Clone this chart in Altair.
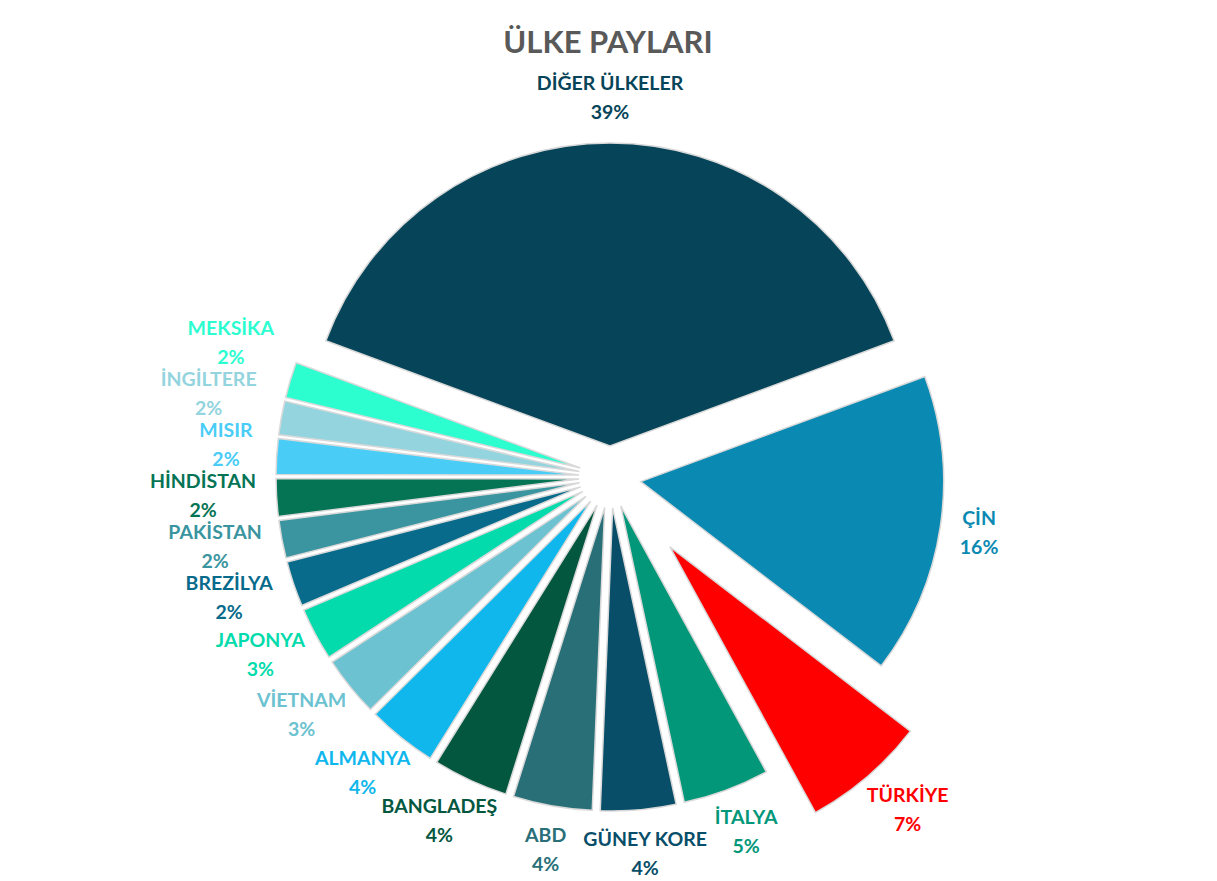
import altair as alt
import pandas as pd

# ---- data ----
names = ["DİĞER ÜLKELER", "ÇİN", "TÜRKİYE", "İTALYA", "GÜNEY KORE", "ABD",
         "BANGLADEŞ", "ALMANYA", "VİETNAM", "JAPONYA", "BREZİLYA", "PAKİSTAN",
         "HİNDİSTAN", "MISIR", "İNGİLTERE", "MEKSİKA"]
values = [38.6, 16.0, 6.6, 4.6, 4.0, 4.2, 4.0, 3.7, 3.2, 2.8, 2.4, 2.0,
          2.0, 1.9, 1.8, 1.9]
colors = ["#064559", "#0a89b2", "#ff0000", "#03977a", "#084e69", "#286f78",
          "#04573f", "#10b7ec", "#6cc2d0", "#03dbac", "#086b8b", "#3a95a0",
          "#057455", "#49cdf7", "#93d4de", "#2dfed0"]
title_text = "ÜLKE PAYLARI"

# ---- style ----
CX, CY = 602, 469          # pie centre (px)
R = 303                    # pie radius
EXPLODE = 31               # explosion of all slices
EXPLODE_SPECIAL = {"TÜRKİYE": 92}
LABEL_GAP = 325
LABEL_SPACING = 51         # min vertical spacing of stacked left labels
FONT = "Lato"
LABEL_SIZE = 19.5

df = pd.DataFrame({"name": names, "value": values, "order": list(range(len(names)))})

ex_expr = " : ".join([f"datum.name === '{k}' ? {v}" for k, v in EXPLODE_SPECIAL.items()] + [str(EXPLODE)])

base = (
    alt.Chart(df)
    .transform_joinaggregate(total="sum(value)")
    .transform_window(cum="sum(value)", first="first_value(value)",
                      sort=[alt.SortField("order")])
    .transform_calculate(
        start="2*PI*(datum.cum - datum.value)/datum.total - PI*datum.first/datum.total",
        end="2*PI*datum.cum/datum.total - PI*datum.first/datum.total",
    )
    .transform_calculate(
        mid="(datum.start + datum.end)/2",
        pct="datum.value/datum.total",
        ex=ex_expr,
        lw="length(datum.name)*11.5",
    )
    .transform_calculate(
        cx=f"{CX} + datum.ex*sin(datum.mid)",
        cy=f"{CY} - datum.ex*cos(datum.mid)",
        lx=f"{CX} + ({LABEL_GAP} + datum.ex + datum.lw/2)*sin(datum.mid)",
        ly0=f"{CY} - ({LABEL_GAP} + datum.ex + 23)*cos(datum.mid)",
        side="sin(datum.mid) < -0.8 ? 'left' : 'other'",
    )
    # stack the crowded left-hand labels upward so they keep a minimum spacing
    .transform_window(rn="row_number()", sort=[alt.SortField("ly0", order="descending")],
                      groupby=["side"])
    .transform_calculate(t=f"datum.ly0 + {LABEL_SPACING}*datum.rn")
    .transform_window(cm="min(t)", sort=[alt.SortField("ly0", order="descending")],
                      groupby=["side"], frame=[None, 0])
    .transform_calculate(
        ly=f"datum.side === 'left' ? datum.cm - {LABEL_SPACING}*datum.rn : datum.ly0"
    )
)

color = alt.Color("name:N", scale=alt.Scale(domain=names, range=colors), legend=None)

arcs = base.mark_arc(radius=R, stroke="#d9d9d9", strokeWidth=1.5).encode(
    x=alt.X("cx:Q", scale=None, axis=None),
    y=alt.Y("cy:Q", scale=None, axis=None),
    theta=alt.Theta("start:Q", scale=None),
    theta2="end:Q",
    color=color,
)

name_labels = base.mark_text(font=FONT, fontWeight="bold", fontSize=LABEL_SIZE, dy=-14.5).encode(
    x=alt.X("lx:Q", scale=None, axis=None),
    y=alt.Y("ly:Q", scale=None, axis=None),
    text="name:N",
    color=color,
)

pct_labels = base.mark_text(font=FONT, fontWeight="bold", fontSize=LABEL_SIZE, dy=14.5).encode(
    x=alt.X("lx:Q", scale=None, axis=None),
    y=alt.Y("ly:Q", scale=None, axis=None),
    text=alt.Text("pct:Q", format=".0%"),
    color=color,
)

title = alt.Chart(pd.DataFrame({"t": [title_text]})).mark_text(
    font=FONT, fontWeight="bold", fontSize=31, color="#595959"
).encode(text="t:N", x=alt.value(600), y=alt.value(36))

chart = (
    alt.layer(arcs, name_labels, pct_labels, title)
    .properties(width=1201, height=869, padding=0,
                autosize=alt.AutoSizeParams(type="none"), background="white")
    .configure_view(stroke=None)
)

chart.save("out.html", embed_options={"renderer": "svg", "actions": False})
